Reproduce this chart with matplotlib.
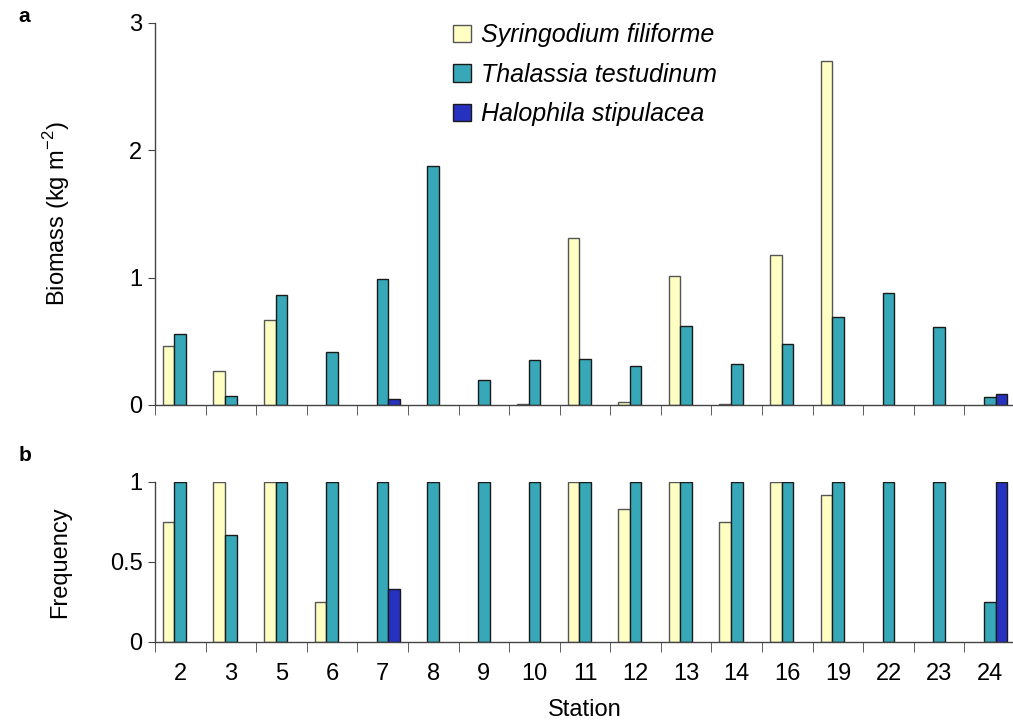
import numpy as np
import matplotlib
matplotlib.use("Agg")
import matplotlib.pyplot as plt

plt.rcParams['font.family'] = ['Liberation Sans', 'DejaVu Sans']

stations = ['2', '3', '5', '6', '7', '8', '9', '10', '11', '12', '13', '14', '16', '19', '22', '23', '24']
species = ['Syringodium filiforme', 'Thalassia testudinum', 'Halophila stipulacea']

# biomass (kg m-2)
bio_syr = [0.46, 0.27, 0.67, 0, 0, 0, 0, 0.005, 1.31, 0.02, 1.01, 0.01, 1.18, 2.70, 0, 0, 0]
bio_tha = [0.56, 0.07, 0.86, 0.42, 0.99, 1.88, 0.20, 0.35, 0.36, 0.31, 0.62, 0.32, 0.48, 0.69, 0.88, 0.61, 0.06]
bio_hal = [0, 0, 0, 0, 0.05, 0, 0, 0, 0, 0, 0, 0, 0, 0, 0, 0, 0.085]

# frequency
frq_syr = [0.75, 1, 1, 0.25, 0, 0, 0, 0, 1, 0.83, 1, 0.75, 1, 0.92, 0, 0, 0]
frq_tha = [1, 0.67, 1, 1, 1, 1, 1, 1, 1, 1, 1, 1, 1, 1, 1, 1, 0.25]
frq_hal = [0, 0, 0, 0, 0.33, 0, 0, 0, 0, 0, 0, 0, 0, 0, 0, 0, 1]

colors = ['#FFFFC4', '#36A8B8', '#2631C0']
edges = ['#555555', '#1a1a1a', '#1a1a1a']

fig = plt.figure(figsize=(10.13, 7.25), dpi=100)
ax1 = fig.add_axes([0.153, 0.4414, 0.849, 0.5269])
ax2 = fig.add_axes([0.153, 0.1145, 0.849, 0.2207])

x = np.arange(len(stations))
w = 0.23
FS = 17


def draw(ax, series, ymax, yticks, yticklabels):
    for i, vals in enumerate(series):
        vals = np.array(vals, dtype=float)
        # empty bars are not drawn at all (no flat outline at zero)
        vals[vals == 0] = np.nan
        ax.bar(x + (i - 1) * w, vals, width=w, color=colors[i], edgecolor=edges[i],
               linewidth=1.0, label=species[i], zorder=3)
    ax.set_xlim(-0.5, len(stations) - 0.5)
    ax.set_ylim(0, ymax)
    for s in ['top', 'right']:
        ax.spines[s].set_visible(False)
    for s in ['left', 'bottom']:
        ax.spines[s].set_color('#444444')
        ax.spines[s].set_linewidth(1.0)
        ax.spines[s].set_zorder(4)
    ax.set_yticks(yticks)
    ax.set_yticklabels(yticklabels, fontsize=FS)
    ax.tick_params(axis='y', length=5, color='#444444', pad=4)
    ax.set_xticks(x)
    ax.set_xticks(np.arange(len(stations)) - 0.5, minor=True)
    ax.tick_params(axis='x', which='major', length=0, labelsize=FS, pad=15)
    ax.tick_params(axis='x', which='minor', length=7, color='#444444')


draw(ax1, [bio_syr, bio_tha, bio_hal], 3, [0, 1, 2, 3], ['0', '1', '2', '3'])
draw(ax2, [frq_syr, frq_tha, frq_hal], 1, [0, 0.5, 1], ['0', '0.5', '1'])
ax1.set_xticklabels([])
ax2.set_xticklabels(stations)

ax1.set_ylabel('Biomass (kg m$^{\\mathregular{-2}}$)', fontsize=FS)
ax1.yaxis.set_label_coords(-0.097, 0.5)
ax2.set_ylabel('Frequency', fontsize=FS)
ax2.yaxis.set_label_coords(-0.097, 0.5)
ax2.set_xlabel('Station', fontsize=FS, labelpad=10)

leg = ax1.legend(loc='upper left', bbox_to_anchor=(0.335, 1.025), frameon=False,
                 prop={'style': 'italic', 'size': 18}, handlelength=0.7, handleheight=0.7,
                 handletextpad=0.4, labelspacing=0.62, borderaxespad=0)

fig.text(0.018, 0.977, 'a', fontsize=15, fontweight='bold', va='center')
fig.text(0.018, 0.372, 'b', fontsize=15, fontweight='bold', va='center')

fig.savefig('out.png', dpi=100)
